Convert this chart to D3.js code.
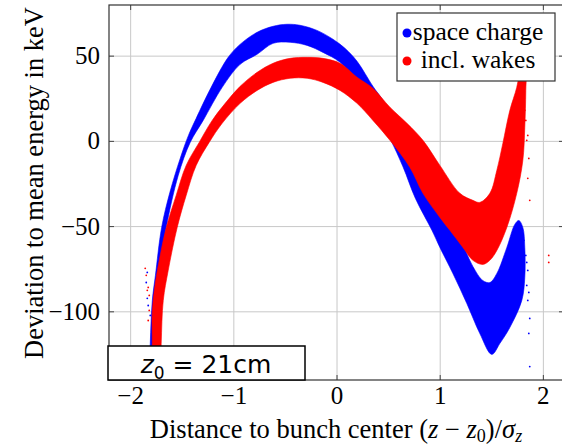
<!DOCTYPE html>
<html>
<head>
<meta charset="utf-8">
<script src="https://cdn.jsdelivr.net/npm/d3@7"></script>
<style>
  html, body { margin: 0; padding: 0; background: #fff; }
  svg { display: block; }
</style>
</head>
<body>
<script>
// band outlines, in data units: [distance / sigma_z, keV]
// outer = upper/left edge, inner = lower/right edge (walked back)
var blueOuter = [
    [-1.82, -140], [-1.81, -118.6], [-1.79, -93.3], [-1.76, -78.6], [-1.70, -50.5],
    [-1.62, -29.9], [-1.52, -10.0], [-1.44, 3.5], [-1.365, 13.5], [-1.22, 31.7],
    [-1.055, 49.3], [-0.94, 56.9], [-0.774, 64.0], [-0.62, 67.5], [-0.484, 68.7],
    [-0.358, 68.1], [-0.194, 65.1], [-0.039, 59.9], [0.077, 54.6], [0.194, 47.0],
    [0.348, 32.3], [0.445, 24.1], [0.61, 6.5], [0.803, -17.0], [0.997, -37.6],
    [1.191, -56.9], [1.317, -73.4], [1.413, -81.6], [1.481, -82.8], [1.549, -77.5],
    [1.646, -62.2], [1.723, -48.7], [1.762, -46.4], [1.801, -50.5], [1.82, -62.2],
    [1.82, -79.8], [1.791, -93.3], [1.675, -109.2], [1.578, -118.6], [1.50, -125.0]
];
var blueInner = [
    [1.384, -112.7], [1.258, -95.1], [1.123, -77.5], [0.997, -62.2], [0.92, -52.2],
    [0.76, -33.5], [0.64, -15.0], [0.513, 1.8], [0.368, 18.2], [0.194, 34.6],
    [0.029, 46.4], [-0.136, 52.2], [-0.29, 56.3], [-0.455, 58.1], [-0.62, 57.5],
    [-0.774, 51.1], [-0.939, 45.2], [-1.113, 31.7], [-1.297, 12.3], [-1.423, -0.6],
    [-1.539, -20.0], [-1.655, -50.5], [-1.733, -81.6], [-1.762, -99.2], [-1.791, -140]
];
var redOuter = [
    [-1.80, -140], [-1.791, -118.6], [-1.791, -100.4], [-1.762, -83.3], [-1.714, -66.9],
    [-1.655, -50.5], [-1.559, -31.7], [-1.462, -14.1], [-1.336, -0.6], [-1.21, 12.3],
    [-1.084, 22.3], [-0.939, 32.3], [-0.774, 40.5], [-0.62, 45.8], [-0.455, 48.7],
    [-0.29, 49.3], [-0.136, 48.7], [0.029, 45.8], [0.194, 37.6], [0.348, 31.1],
    [0.513, 20.0], [0.678, 10.6], [0.833, 0.6], [0.997, -14.1], [1.191, -30.5],
    [1.317, -34.6], [1.384, -35.8], [1.481, -30.5], [1.549, -17.0], [1.607, -1.2],
    [1.675, 18.2], [1.742, 31.7], [1.772, 41.7], [1.791, 50.5], [1.83, 47.5],
    [1.83, 29.9], [1.82, 8.2], [1.801, -11.2], [1.742, -30.5], [1.646, -50.5],
    [1.549, -64.0], [1.481, -69.8], [1.413, -72.2]
];
var redInner = [
    [1.317, -69.8], [1.22, -62.2], [1.094, -52.2], [0.997, -44.6], [0.833, -30.5],
    [0.707, -15.3], [0.513, 0.6], [0.348, 12.3], [0.194, 22.3], [0.029, 29.9],
    [-0.136, 34.6], [-0.29, 37.0], [-0.455, 37.0], [-0.62, 34.6], [-0.774, 29.9],
    [-0.939, 22.3], [-1.113, 10.6], [-1.239, -0.6], [-1.365, -14.1], [-1.462, -31.7],
    [-1.549, -50.5], [-1.636, -75.7], [-1.684, -93.3], [-1.704, -118.6], [-1.714, -140]
];

// loose particles outside the bands
var blueDots = [
    [-1.849, -82.8], [-1.839, -92.1], [-1.83, -96.3], [-1.81, -102.1], [-1.839, -76.9],
    [1.81, -58.1], [1.83, -66.9], [1.839, -71.0], [1.849, -75.7], [1.839, -84.5],
    [1.859, -88.6], [1.849, -93.3], [1.868, -103.9], [1.859, -112.7], [1.868, -132.1]
];
var redDots = [
    [-1.859, -74.5], [-1.849, -78.6], [-1.839, -87.4], [-1.83, -85.7], [-1.82, -90.4],
    [-1.82, -99.2], [-1.83, -105.1],
    [1.81, 27.0], [1.82, 18.2], [1.83, 12.3], [1.849, 3.5], [1.839, 0.6],
    [1.859, -10.0], [1.849, -21.7], [1.868, -34.6], [2.052, -66.9], [2.052, -71.0]
];

var xTicks = [-2, -1, 0, 1, 2],
    yTicks = [-100, -50, 0, 50];

var series = [
    { name: 'space charge', color: '#0000ff', outline: blueOuter.concat(blueInner), dots: blueDots },
    { name: 'incl. wakes', color: '#ff0000', outline: redOuter.concat(redInner), dots: redDots }
];

;(() => {
    var width = 562, height = 445;
    var left = 109, right = 564, top = 5, bottom = 380; // plot frame

    var serif = "'Liberation Serif', 'Times New Roman', serif",
        sans = "'DejaVu Sans', sans-serif";

    var x = d3.scaleLinear().domain([-2.21, 2.2]).range([left, right]),
        y = d3.scaleLinear().domain([-140, 80]).range([bottom, top]);

    var svg = d3.select('body')
        .append('svg')
        .attr('width', width)
        .attr('height', height);

    svg.append('clipPath')
        .attr('id', 'plot-clip')
        .append('rect')
        .attr('x', left).attr('y', top)
        .attr('width', right - left).attr('height', bottom - top);

    // grid
    svg.append('g')
        .selectAll('line')
        .data(xTicks)
        .enter()
        .append('line')
        .attr('x1', d => x(d)).attr('x2', d => x(d))
        .attr('y1', top).attr('y2', bottom)
        .attr('stroke', '#c8c8c8');
    svg.append('g')
        .selectAll('line')
        .data(yTicks)
        .enter()
        .append('line')
        .attr('x1', left).attr('x2', right)
        .attr('y1', d => y(d)).attr('y2', d => y(d))
        .attr('stroke', '#c8c8c8');

    // bands
    var outline = d3.line()
        .x(d => x(d[0]))
        .y(d => y(d[1]))
        .curve(d3.curveCatmullRomClosed.alpha(0.5));

    var plot = svg.append('g').attr('clip-path', 'url(#plot-clip)');

    series.forEach(s => {
        plot.append('path')
            .attr('d', outline(s.outline))
            .attr('fill', s.color)
            .attr('stroke', s.color)
            .attr('stroke-width', 0.6);
    });
    series.forEach(s => {
        plot.selectAll(null)
            .data(s.dots)
            .enter()
            .append('circle')
            .attr('cx', d => x(d[0]))
            .attr('cy', d => y(d[1]))
            .attr('r', 0.9)
            .attr('fill', s.color);
    });

    // ticks, inside on all four sides
    var tick = 5;
    var ticks = svg.append('g').attr('stroke', '#444');
    xTicks.forEach(d => {
        ticks.append('line').attr('x1', x(d)).attr('x2', x(d)).attr('y1', bottom).attr('y2', bottom - tick);
        ticks.append('line').attr('x1', x(d)).attr('x2', x(d)).attr('y1', top).attr('y2', top + tick);
    });
    yTicks.forEach(d => {
        ticks.append('line').attr('x1', left).attr('x2', left + tick).attr('y1', y(d)).attr('y2', y(d));
        ticks.append('line').attr('x1', right).attr('x2', right - tick).attr('y1', y(d)).attr('y2', y(d));
    });

    // frame
    svg.append('rect')
        .attr('x', left).attr('y', top)
        .attr('width', right - left).attr('height', bottom - top)
        .attr('fill', 'none')
        .attr('stroke', '#333')
        .attr('stroke-width', 1.2);

    // tick labels
    var fmt = d => (d < 0 ? '\u2212' : '') + Math.abs(d);
    svg.append('g')
        .selectAll('text')
        .data(xTicks)
        .enter()
        .append('text')
        .style('font-family', serif)
        .style('font-size', '25px')
        .attr('x', d => x(d))
        .attr('y', 404)
        .attr('text-anchor', 'middle')
        .text(fmt);
    svg.append('g')
        .selectAll('text')
        .data(yTicks)
        .enter()
        .append('text')
        .style('font-family', serif)
        .style('font-size', '25px')
        .attr('x', 100)
        .attr('y', d => y(d) + 8)
        .attr('text-anchor', 'end')
        .text(fmt);

    // axis labels
    var xl = svg.append('text')
        .style('font-family', serif)
        .style('font-size', '26.5px')
        .attr('x', 336)
        .attr('y', 438)
        .attr('text-anchor', 'middle');
    xl.append('tspan').text('Distance to bunch center (');
    xl.append('tspan').style('font-style', 'italic').text('z');
    xl.append('tspan').text(' \u2212 ');
    xl.append('tspan').style('font-style', 'italic').text('z');
    xl.append('tspan').style('font-size', '18px').attr('dy', 4).text('0');
    xl.append('tspan').attr('dy', -4).text(')/');
    xl.append('tspan').style('font-style', 'italic').text('\u03c3');
    xl.append('tspan').style('font-style', 'italic').style('font-size', '18px').attr('dy', 4).text('z');

    svg.append('text')
        .style('font-family', serif)
        .style('font-size', '26.5px')
        .attr('transform', 'translate(43,183) rotate(-90)')
        .attr('text-anchor', 'middle')
        .text('Deviation to mean energy in keV');

    // legend
    var legend = svg.append('g');
    legend.append('rect')
        .attr('x', 397).attr('y', 13)
        .attr('width', 158).attr('height', 68)
        .attr('fill', '#fff')
        .attr('stroke', '#333')
        .attr('stroke-width', 1.2);
    series.forEach((s, i) => {
        legend.append('circle')
            .attr('cx', 407).attr('cy', 33 + i * 28)
            .attr('r', 4.5)
            .attr('fill', s.color);
        legend.append('text')
            .style('font-family', serif)
            .style('font-size', '25.5px')
            .attr('x', 478).attr('y', 40 + i * 28)
            .attr('text-anchor', 'middle')
            .text(s.name);
    });

    // z0 annotation box
    svg.append('rect')
        .attr('x', 108).attr('y', 346)
        .attr('width', 197).attr('height', 34)
        .attr('fill', '#fff')
        .attr('stroke', '#000')
        .attr('stroke-width', 1.5);
    var zt = svg.append('text')
        .style('font-family', sans)
        .style('font-size', '25px')
        .attr('x', 206).attr('y', 373)
        .attr('text-anchor', 'middle');
    zt.append('tspan').style('font-style', 'italic').text('z');
    zt.append('tspan').style('font-size', '17px').attr('dy', 6).text('0');
    zt.append('tspan').attr('dy', -6).text(' = 21cm');
})();
</script>
</body>
</html>
